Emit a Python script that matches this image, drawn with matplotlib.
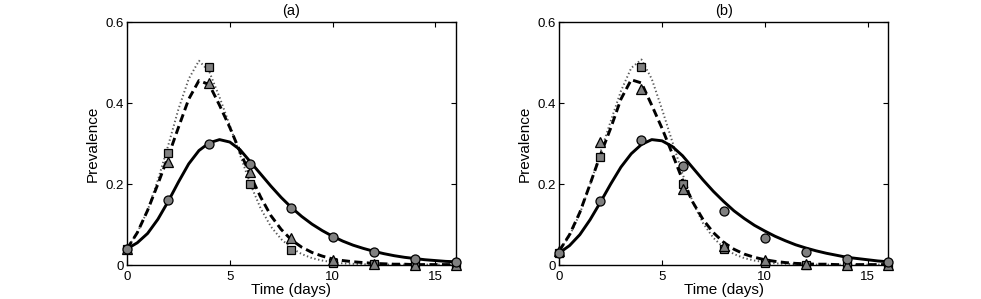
import numpy as np
import matplotlib
matplotlib.use('Agg')
import matplotlib.pyplot as plt

plt.rcParams['font.family'] = ['Liberation Sans', 'DejaVu Sans']

#%% data
# model curves, sampled every half day
t_curve = np.arange(0, 16.5, 0.5)

a_solid = [0.040, 0.055, 0.078, 0.113, 0.157, 0.205, 0.250, 0.283, 0.302, 0.310,
           0.304, 0.285, 0.255, 0.225, 0.195, 0.167, 0.142, 0.120, 0.101, 0.085,
           0.071, 0.059, 0.049, 0.041, 0.034, 0.028, 0.023, 0.019, 0.016, 0.013,
           0.011, 0.009, 0.008]
a_dashed = [0.040, 0.080, 0.135, 0.200, 0.268, 0.340, 0.410, 0.456, 0.446, 0.395,
            0.340, 0.280, 0.222, 0.168, 0.122, 0.088, 0.062, 0.044, 0.031, 0.022,
            0.015, 0.011, 0.008, 0.006, 0.004, 0.003, 0.002, 0.002, 0.001, 0.001,
            0.001, 0.001, 0.001]
a_dotted = [0.040, 0.080, 0.135, 0.210, 0.295, 0.385, 0.460, 0.505, 0.478, 0.415,
            0.345, 0.272, 0.200, 0.140, 0.095, 0.064, 0.042, 0.027, 0.017, 0.011,
            0.007, 0.004, 0.003, 0.002, 0.001, 0.001, 0.001, 0.001, 0.001, 0.001,
            0.001, 0.001, 0.001]

b_solid = [0.030, 0.048, 0.075, 0.112, 0.155, 0.200, 0.242, 0.275, 0.298, 0.310,
           0.307, 0.293, 0.270, 0.240, 0.210, 0.182, 0.157, 0.134, 0.115, 0.098,
           0.084, 0.071, 0.060, 0.050, 0.042, 0.035, 0.029, 0.024, 0.019, 0.016,
           0.013, 0.010, 0.008]
b_dashed = [0.035, 0.075, 0.130, 0.200, 0.272, 0.338, 0.410, 0.458, 0.450, 0.395,
            0.338, 0.275, 0.210, 0.155, 0.112, 0.080, 0.056, 0.039, 0.027, 0.019,
            0.013, 0.009, 0.006, 0.004, 0.003, 0.002, 0.002, 0.001, 0.001, 0.001,
            0.001, 0.001, 0.001]
b_dotted = [0.035, 0.072, 0.127, 0.198, 0.278, 0.355, 0.430, 0.487, 0.508, 0.460,
            0.385, 0.305, 0.225, 0.155, 0.103, 0.067, 0.043, 0.027, 0.017, 0.011,
            0.007, 0.004, 0.003, 0.002, 0.001, 0.001, 0.001, 0.001, 0.001, 0.001,
            0.001, 0.001, 0.001]

# observed points, every two days
t_obs = [0, 2, 4, 6, 8, 10, 12, 14, 16]
a_circ = [0.040, 0.160, 0.300, 0.250, 0.142, 0.070, 0.033, 0.016, 0.008]
a_sq = [0.040, 0.278, 0.489, 0.200, 0.038, 0.005, 0.002, 0.001, 0.000]
a_tri = [0.040, 0.254, 0.449, 0.230, 0.067, 0.013, 0.003, 0.001, 0.000]
b_circ = [0.030, 0.158, 0.309, 0.245, 0.134, 0.066, 0.031, 0.014, 0.007]
b_sq = [0.030, 0.268, 0.490, 0.200, 0.040, 0.005, 0.001, 0.000, 0.000]
b_tri = [0.035, 0.305, 0.434, 0.187, 0.047, 0.012, 0.002, 0.000, 0.000]

panels = [('(a)', a_solid, a_dashed, a_dotted, a_circ, a_sq, a_tri),
          ('(b)', b_solid, b_dashed, b_dotted, b_circ, b_sq, b_tri)]

#%% plot
fig = plt.figure(figsize=(9.81, 2.99), dpi=100)
lefts = [0.1295, 0.5701]

for left, (title, solid, dashed, dotted, circ, sq, tri) in zip(lefts, panels):
    ax = fig.add_axes([left, 0.1137, 0.3352, 0.8117])

    ax.plot(t_curve, dotted, color='0.35', lw=1.4, linestyle=(0, (0.7, 1.3)))
    ax.plot(t_curve, dashed, color='black', lw=2.1, linestyle=(0, (2.8, 1.5)))
    ax.plot(t_curve, solid, color='black', lw=2.1)

    mk = dict(linestyle='none', mfc='0.5', mec='black', mew=0.9, clip_on=False, zorder=5)
    ax.plot(t_obs, sq, marker='s', ms=5.2, **mk)
    ax.plot(t_obs, tri, marker='^', ms=6.8, **mk)
    ax.plot(t_obs, circ, marker='o', ms=6.5, **mk)

    ax.set_xlim(0, 16)
    ax.set_ylim(0, 0.6)
    ax.set_xticks([0, 5, 10, 15])
    ax.set_xticklabels(['0', '5', '10', '15'])
    ax.set_yticks([0, 0.2, 0.4, 0.6])
    ax.set_yticklabels(['0', '0.2', '0.4', '0.6'])
    ax.tick_params(direction='in', length=3.5, width=0.8, top=True, right=True,
                   labelsize=9.5)
    ax.tick_params(axis='x', pad=4)
    ax.tick_params(axis='y', pad=2.5)
    for s in ax.spines.values():
        s.set_linewidth(1.0)

    ax.set_title(title, fontsize=10.5, pad=5)
    ax.set_xlabel('Time (days)', fontsize=11, labelpad=0)
    ax.set_ylabel('Prevalence', fontsize=11, labelpad=4)

fig.savefig('out.png', dpi=100)
